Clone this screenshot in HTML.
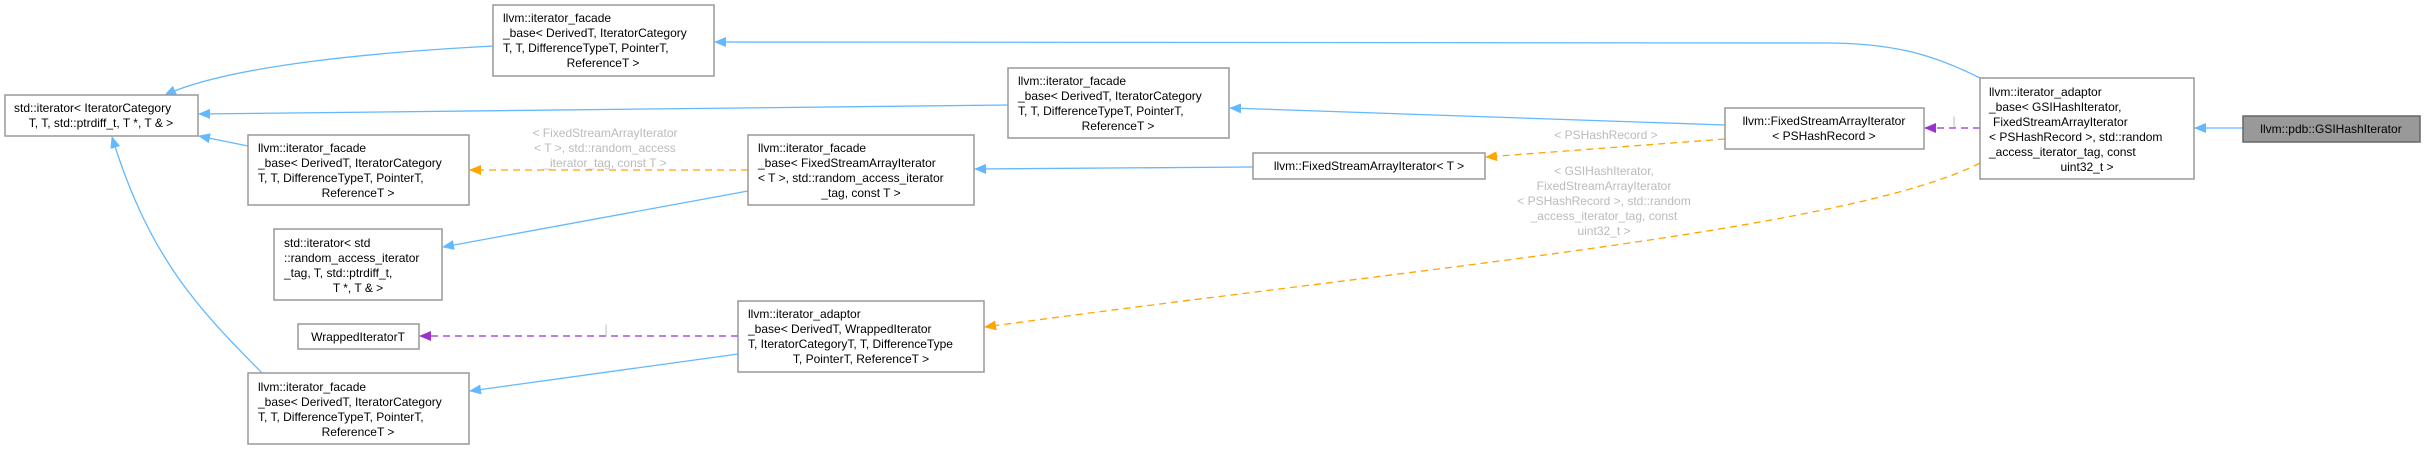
<!DOCTYPE html>
<html><head><meta charset="utf-8"><style>
html,body{margin:0;padding:0;background:#fff;}
svg{display:block;}
text{font-family:"Liberation Sans",Arial,sans-serif;font-size:12px;fill:#000;}
.l text,text.l{fill:#bbb;}
.b{fill:#fff;stroke:#999;stroke-width:1.5;}
.e{fill:none;stroke:#63b8ff;stroke-width:1.3;}
.o{fill:none;stroke:orange;stroke-width:1.3;stroke-dasharray:7,5;}
.p{fill:none;stroke:#9a32cd;stroke-width:1.3;stroke-dasharray:7,5;}
</style></head><body>
<svg width="2425" height="449" viewBox="0 0 2425 449" xmlns="http://www.w3.org/2000/svg">
<defs>
<marker id="ab" markerWidth="12" markerHeight="10" refX="11" refY="5" orient="auto" markerUnits="userSpaceOnUse"><path d="M0,0 L12,5 L0,10 z" fill="#63b8ff"/></marker>
<marker id="ao" markerWidth="12" markerHeight="10" refX="11" refY="5" orient="auto" markerUnits="userSpaceOnUse"><path d="M0,0 L12,5 L0,10 z" fill="orange"/></marker>
<marker id="ap" markerWidth="12" markerHeight="10" refX="11" refY="5" orient="auto" markerUnits="userSpaceOnUse"><path d="M0,0 L12,5 L0,10 z" fill="#9a32cd"/></marker>
</defs>

<!-- edges -->
<path class="e" d="M493,46 C380,52 230,65 165,95" marker-end="url(#ab)"/>
<path class="e" d="M1008,105 L199,114" marker-end="url(#ab)"/>
<path class="e" d="M248,146 L199,136" marker-end="url(#ab)"/>
<path class="e" d="M262,373 C200,310 150,260 112,137" marker-end="url(#ab)"/>
<path class="e" d="M748,191 L443,247" marker-end="url(#ab)"/>
<path class="e" d="M738,354 L470,391" marker-end="url(#ab)"/>
<path class="e" d="M1253,167 L975,169" marker-end="url(#ab)"/>
<path class="e" d="M1725,125 L1230,108" marker-end="url(#ab)"/>
<path class="e" d="M1980,78 C1940,58 1900,43 1826,43 L715,42" marker-end="url(#ab)"/>
<path class="e" d="M2243,128 L2195,128" marker-end="url(#ab)"/>
<path class="o" d="M748,170 L470,170" marker-end="url(#ao)"/>
<path class="o" d="M1725,139 L1486,157" marker-end="url(#ao)"/>
<path class="o" d="M1980,163 C1850,230 1400,270 985,327" marker-end="url(#ao)"/>
<path class="p" d="M738,336 L420,336" marker-end="url(#ap)"/>
<path class="p" d="M1980,128 L1925,128" marker-end="url(#ap)"/>

<!-- edge labels -->
<g class="l">
<text x="605" y="137" text-anchor="middle">&lt; FixedStreamArrayIterator</text>
<text x="605" y="152" text-anchor="middle">&lt; T &gt;, std::random_access</text>
<text x="605" y="167" text-anchor="middle">_iterator_tag, const T &gt;</text>
<text x="606" y="333" text-anchor="middle">|</text>
<text x="1606" y="139" text-anchor="middle">&lt; PSHashRecord &gt;</text>
<text x="1604" y="175" text-anchor="middle">&lt; GSIHashIterator,</text>
<text x="1604" y="190" text-anchor="middle">FixedStreamArrayIterator</text>
<text x="1604" y="205" text-anchor="middle">&lt; PSHashRecord &gt;, std::random</text>
<text x="1604" y="220" text-anchor="middle">_access_iterator_tag, const</text>
<text x="1604" y="235" text-anchor="middle">uint32_t &gt;</text>
<text x="1954" y="125" text-anchor="middle">|</text>
</g>

<!-- nodes -->
<rect class="b" x="5" y="95" width="193" height="41"/>
<text x="14" y="112">std::iterator&lt; IteratorCategory</text>
<text x="101" y="127" text-anchor="middle">T, T, std::ptrdiff_t, T *, T &amp; &gt;</text>

<rect class="b" x="493" y="5" width="221" height="71"/>
<text x="503" y="22">llvm::iterator_facade</text>
<text x="503" y="37">_base&lt; DerivedT, IteratorCategory</text>
<text x="503" y="52">T, T, DifferenceTypeT, PointerT,</text>
<text x="603" y="67" text-anchor="middle">ReferenceT &gt;</text>

<rect class="b" x="248" y="135" width="221" height="70"/>
<text x="258" y="152">llvm::iterator_facade</text>
<text x="258" y="167">_base&lt; DerivedT, IteratorCategory</text>
<text x="258" y="182">T, T, DifferenceTypeT, PointerT,</text>
<text x="358" y="197" text-anchor="middle">ReferenceT &gt;</text>

<rect class="b" x="274" y="229" width="168" height="71"/>
<text x="284" y="247">std::iterator&lt; std</text>
<text x="284" y="262">::random_access_iterator</text>
<text x="284" y="277">_tag, T, std::ptrdiff_t,</text>
<text x="358" y="292" text-anchor="middle">T *, T &amp; &gt;</text>

<rect class="b" x="298" y="324" width="121" height="25"/>
<text x="358" y="341" text-anchor="middle">WrappedIteratorT</text>

<rect class="b" x="248" y="373" width="221" height="71"/>
<text x="258" y="391">llvm::iterator_facade</text>
<text x="258" y="406">_base&lt; DerivedT, IteratorCategory</text>
<text x="258" y="421">T, T, DifferenceTypeT, PointerT,</text>
<text x="358" y="436" text-anchor="middle">ReferenceT &gt;</text>

<rect class="b" x="1008" y="68" width="221" height="70"/>
<text x="1018" y="85">llvm::iterator_facade</text>
<text x="1018" y="100">_base&lt; DerivedT, IteratorCategory</text>
<text x="1018" y="115">T, T, DifferenceTypeT, PointerT,</text>
<text x="1118" y="130" text-anchor="middle">ReferenceT &gt;</text>

<rect class="b" x="748" y="135" width="226" height="70"/>
<text x="758" y="152">llvm::iterator_facade</text>
<text x="758" y="167">_base&lt; FixedStreamArrayIterator</text>
<text x="758" y="182">&lt; T &gt;, std::random_access_iterator</text>
<text x="861" y="197" text-anchor="middle">_tag, const T &gt;</text>

<rect class="b" x="1253" y="153" width="232" height="26"/>
<text x="1369" y="170" text-anchor="middle">llvm::FixedStreamArrayIterator&lt; T &gt;</text>

<rect class="b" x="738" y="301" width="246" height="71"/>
<text x="748" y="318">llvm::iterator_adaptor</text>
<text x="748" y="333">_base&lt; DerivedT, WrappedIterator</text>
<text x="748" y="348">T, IteratorCategoryT, T, DifferenceType</text>
<text x="861" y="363" text-anchor="middle">T, PointerT, ReferenceT &gt;</text>

<rect class="b" x="1725" y="108" width="199" height="41"/>
<text x="1824" y="125" text-anchor="middle">llvm::FixedStreamArrayIterator</text>
<text x="1824" y="140" text-anchor="middle">&lt; PSHashRecord &gt;</text>

<rect class="b" x="1980" y="78" width="214" height="101"/>
<text x="1989" y="96">llvm::iterator_adaptor</text>
<text x="1989" y="111">_base&lt; GSIHashIterator,</text>
<text x="1993" y="126">FixedStreamArrayIterator</text>
<text x="1989" y="141">&lt; PSHashRecord &gt;, std::random</text>
<text x="1989" y="156">_access_iterator_tag, const</text>
<text x="2087" y="171" text-anchor="middle">uint32_t &gt;</text>

<rect x="2243" y="116" width="177" height="26" fill="#999" stroke="#666" stroke-width="1.5"/>
<text x="2331" y="133" text-anchor="middle">llvm::pdb::GSIHashIterator</text>
</svg>
</body></html>
